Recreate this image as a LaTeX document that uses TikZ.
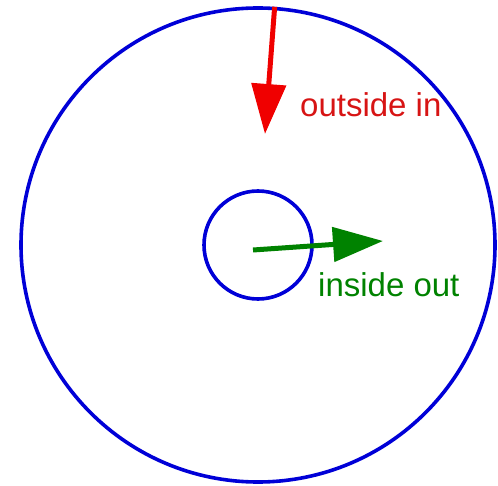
\documentclass[tikz,border=0pt]{standalone}
\usepackage{fontspec}
\setmainfont{Liberation Sans}
\usetikzlibrary{arrows.meta,positioning}
\definecolor{ringblue}{RGB}{0,0,215}
\definecolor{arrowred}{RGB}{240,0,0}
\definecolor{textred}{RGB}{215,20,20}
\definecolor{arrowgreen}{RGB}{0,130,0}
\tikzset{
  ring/.style={circle, draw=ringblue, line width=3.6pt, inner sep=0pt},
  bigtip/.style={-{Triangle[length=50pt,width=34pt]}, line width=5pt},
  lbl/.style={anchor=base west, inner sep=0pt, font=\fontsize{33pt}{35pt}\selectfont},
}
\begin{document}
\begin{tikzpicture}[x=1pt,y=-1pt]
    \useasboundingbox (0,0) rectangle (498,486);
    \node[ring, minimum size=474pt] (outer) at (258,245) {};
    \node[ring, minimum size=108pt] (inner) at (258,245) {};
    % outside in
    \coordinate (oi) at (265,134);
    \draw[bigtip, arrowred] (outer.86.5) -- (oi);
    \node[lbl, text=textred] (oilbl) at (300,117) {outside in};
    % inside out
    \coordinate (io-start) at (253,250);
    \coordinate (io) at (383,241);
    \draw[bigtip, arrowgreen] (io-start) -- (io);
    \node[lbl, text=arrowgreen] (iolbl) at (318,297) {inside out};
\end{tikzpicture}
\end{document}
